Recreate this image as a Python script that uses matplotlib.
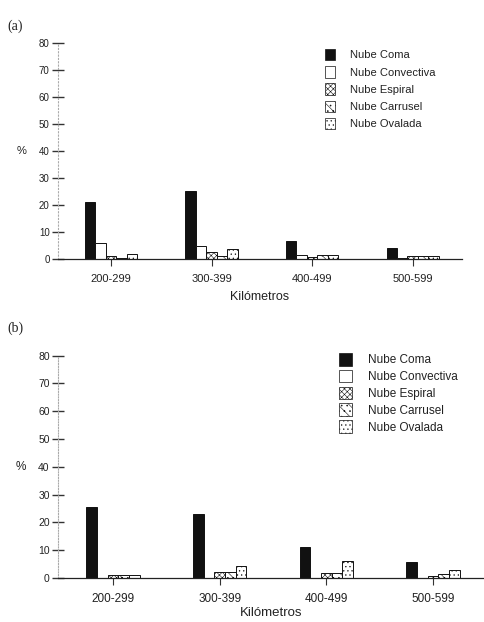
import matplotlib
matplotlib.use("Agg")
import matplotlib.pyplot as plt
from matplotlib.patches import Patch
import numpy as np

plt.rcParams['font.family'] = ['Liberation Sans', 'DejaVu Sans']
plt.rcParams['hatch.linewidth'] = 0.4

categories = ['200-299', '300-399', '400-499', '500-599']
series_names = ['Nube Coma', 'Nube Convectiva', 'Nube Espiral', 'Nube Carrusel', 'Nube Ovalada']

a_coma = [21.0, 25.0, 6.7, 4.2]
a_convectiva = [5.8, 4.8, 1.5, 0.3]
a_espiral = [1.0, 2.5, 0.6, 1.1]
a_carrusel = [0.2, 1.0, 1.4, 1.1]
a_ovalada = [1.7, 3.6, 1.4, 1.1]

b_coma = [25.5, 23.0, 11.3, 5.9]
b_convectiva = [0.0, 0.0, 0.0, 0.0]
b_espiral = [1.2, 2.2, 1.8, 0.6]
b_carrusel = [1.2, 2.2, 1.8, 1.5]
b_ovalada = [1.2, 4.4, 6.0, 2.7]

yticks = [0, 10, 20, 30, 40, 50, 60, 70, 80]

styles = [
    dict(facecolor='#111111', hatch=None),
    dict(facecolor='white', hatch=None),
    dict(facecolor='white', hatch='xxxxxx'),
    dict(facecolor='white', hatch='\\\\\\...'),
    dict(facecolor='white', hatch='....'),
]

W, H = 484, 622
fig = plt.figure(figsize=(W / 100, H / 100), dpi=100)
TXT = '#222222'


def panel(rect, data, width, xlim, tick_fs, cat_fs, xl_fs, xlabelpad, leg_anchor, leg_fs,
          hl, hh, hpad, lspace, left_style):
    ax = fig.add_axes(rect)
    x = np.arange(len(categories))
    offsets = [-2, -1, 0, 1, 2]
    for vals, off, st in zip(data, offsets, styles):
        ax.bar(x + off * width, vals, width=width, facecolor=st['facecolor'],
               hatch=st['hatch'], edgecolor='#111111', linewidth=0.7)
    ax.set_xlim(*xlim)
    ax.set_ylim(0, 80)
    ax.set_yticks(yticks)
    ax.set_yticklabels([str(t) for t in yticks], fontsize=tick_fs, color=TXT)
    ax.set_xticks(x)
    ax.set_xticklabels(categories, fontsize=cat_fs, color=TXT)
    ax.tick_params(axis='y', direction='inout', length=8, width=1.0, color='#333333', pad=2)
    ax.tick_params(axis='x', length=5, width=0.8, color='#333333', pad=6)
    ax.set_xlabel('Kilómetros', fontsize=xl_fs, color=TXT, labelpad=xlabelpad)
    for s in ['top', 'right']:
        ax.spines[s].set_visible(False)
    ax.spines['bottom'].set_color('#222222')
    ax.spines['bottom'].set_linewidth(0.9)
    ax.spines['left'].set_color('#aaaaaa')
    ax.spines['left'].set_linewidth(0.8)
    ax.spines['left'].set_linestyle(left_style)
    handles = [Patch(facecolor=st['facecolor'], hatch=st['hatch'], edgecolor='#111111',
                     linewidth=0.5) for st in styles]
    leg = ax.legend(handles, series_names, loc='upper left',
                    bbox_to_anchor=leg_anchor, bbox_transform=fig.transFigure,
                    frameon=False, fontsize=leg_fs, handlelength=hl, handleheight=hh,
                    handletextpad=hpad, labelspacing=lspace, borderpad=0, borderaxespad=0)
    for t in leg.get_texts():
        t.set_color(TXT)
    return ax


data_a = [a_coma, a_convectiva, a_espiral, a_carrusel, a_ovalada]
data_b = [b_coma, b_convectiva, b_espiral, b_carrusel, b_ovalada]

ax1 = panel([58 / W, 1 - 259 / H, (462 - 58) / W, (259 - 43) / H], data_a, 0.104,
            (-0.527, 3.49), 7, 8, 9, 5, (325 / W, 1 - 49 / H), 8,
            0.9, 1.2, 1.35, 0.52, (0, (1, 2)))
ax2 = panel([58 / W, 1 - 578 / H, (484 - 58) / W, (578 - 355.7) / H], data_b, 0.100,
            (-0.515, 3.477), 7.5, 8.5, 9.5, 1.5, (339 / W, 1 - 353 / H), 8.5,
            1.1, 1.27, 1.35, 0.3, (0, (1, 1.5)))

fig.text(7 / W, 1 - 26 / H, '(a)', family='Liberation Serif', fontsize=10, va='center',
         ha='left', color=TXT)
fig.text(7 / W, 1 - 328 / H, '(b)', family='Liberation Serif', fontsize=10, va='center',
         ha='left', color=TXT)
fig.text(22 / W, 1 - (259 - 40 * 2.7) / H, '%', fontsize=8, va='center', ha='center', color=TXT)
fig.text(21 / W, 1 - (578 - 40 * 2.78) / H, '%', fontsize=8.5, va='center', ha='center', color=TXT)

fig.savefig('out.png', dpi=100, facecolor='white')
